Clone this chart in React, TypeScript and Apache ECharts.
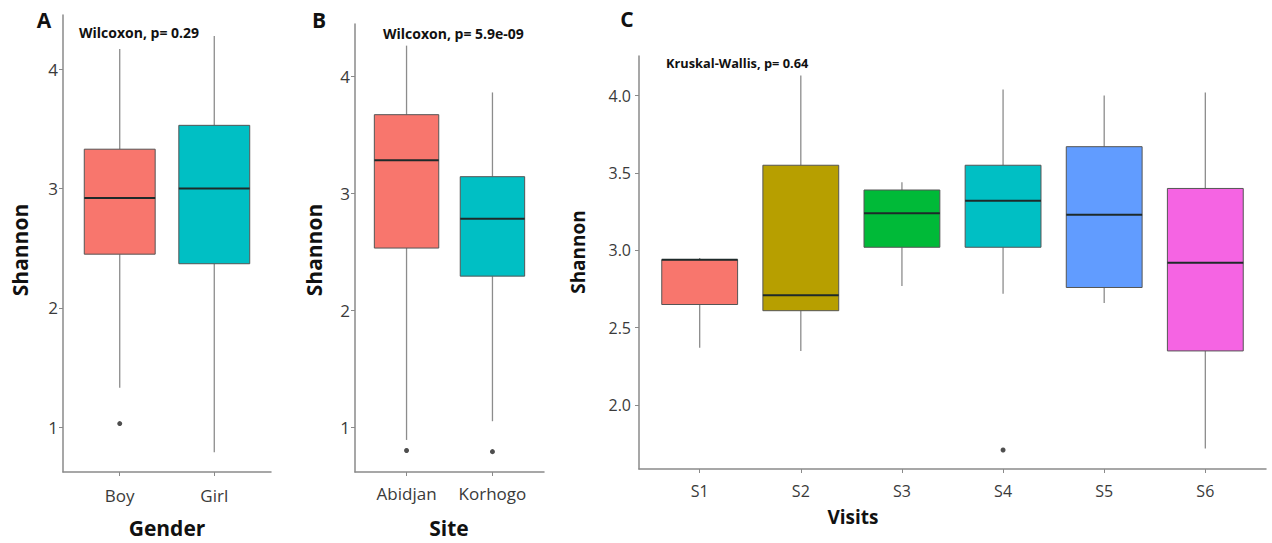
import React, { useEffect, useRef } from 'react';
import * as echarts from 'echarts';

// ---------- data ----------
const genderCats = ['Boy', 'Girl'];
// [lowerWhisker, Q1, median, Q3, upperWhisker]
const genderStats = [
  [1.33, 2.45, 2.92, 3.33, 4.17],
  [0.79, 2.37, 3.0, 3.53, 4.28],
];
const genderOutliers = [[0, 1.03]];

const siteCats = ['Abidjan', 'Korhogo'];
const siteStats = [
  [0.89, 2.53, 3.28, 3.67, 4.26],
  [1.05, 2.29, 2.78, 3.14, 3.86],
];
const siteOutliers = [[0, 0.8], [1, 0.79]];

const visitCats = ['S1', 'S2', 'S3', 'S4', 'S5', 'S6'];
const visitStats = [
  [2.37, 2.65, 2.94, 2.94, 2.95],
  [2.35, 2.61, 2.71, 3.55, 4.13],
  [2.77, 3.02, 3.24, 3.39, 3.44],
  [2.72, 3.02, 3.32, 3.55, 4.04],
  [2.66, 2.76, 3.23, 3.67, 4.0],
  [1.72, 2.35, 2.92, 3.4, 4.02],
];
const visitOutliers = [[3, 1.71]];

const abTicks = [1, 2, 3, 4];
const cTicks = [2.0, 2.5, 3.0, 3.5, 4.0];

const panelLetters = ['A', 'B', 'C'];
const testLabels = ['Wilcoxon, p= 0.29', 'Wilcoxon, p= 5.9e-09', 'Kruskal-Wallis, p= 0.64'];
const xTitles = ['Gender', 'Site', 'Visits'];
const yTitle = 'Shannon';

// ---------- styles ----------
const FONT = '"Open Sans", Lato, sans-serif';
const pal2 = ['#F8766D', '#00BFC4'];
const pal6 = ['#F8766D', '#B79F00', '#00BA38', '#00BFC4', '#619CFF', '#F564E3'];

type Panel = {
  cats: string[];
  stats: number[][];
  outliers: number[][];
  ticks: number[];
  yMin: number;
  yMax: number;
  grid: { left: number; top: number; width: number; height: number };
  palette: string[];
  tickFont: number;
  xLabelMargin: number;
  yLabelMargin: number;
  decimals: number;
};

const panels: Panel[] = [
  {
    cats: genderCats, stats: genderStats, outliers: genderOutliers, ticks: abTicks,
    yMin: 0.624, yMax: 4.455,
    grid: { left: 63, top: 15, width: 208, height: 457 },
    palette: pal2, tickFont: 17, xLabelMargin: 15, yLabelMargin: 5, decimals: 0,
  },
  {
    cats: siteCats, stats: siteStats, outliers: siteOutliers, ticks: abTicks,
    yMin: 0.616, yMax: 4.445,
    grid: { left: 355, top: 24, width: 189, height: 448 },
    palette: pal2, tickFont: 17, xLabelMargin: 13, yLabelMargin: 5, decimals: 0,
  },
  {
    cats: visitCats, stats: visitStats, outliers: visitOutliers, ticks: cTicks,
    yMin: 1.587, yMax: 4.256,
    grid: { left: 639, top: 56, width: 627, height: 413 },
    palette: pal6, tickFont: 16, xLabelMargin: 14, yLabelMargin: 8, decimals: 1,
  },
];

function buildOption() {
  const grids: any[] = [];
  const xAxes: any[] = [];
  const yAxes: any[] = [];
  const series: any[] = [];
  const axisColor = '#8a8a8a';

  panels.forEach((p, i) => {
    grids.push({ ...p.grid, containLabel: false });
    const catVals = p.cats.map((_, k) => k + 1);
    xAxes.push({
      type: 'value',
      gridIndex: i,
      min: 0.4,
      max: p.cats.length + 0.6,
      axisLine: { show: true, onZero: false, lineStyle: { color: axisColor, width: 1.5 } },
      axisTick: { show: true, customValues: catVals, length: 4, lineStyle: { color: axisColor, width: 1 } },
      axisLabel: {
        customValues: catVals,
        formatter: (v: number) => p.cats[Math.round(v) - 1] ?? '',
        fontSize: p.tickFont,
        color: '#3a3a3a',
        fontFamily: FONT,
        margin: p.xLabelMargin,
      },
      splitLine: { show: false },
    });
    yAxes.push({
      type: 'value',
      gridIndex: i,
      min: p.yMin,
      max: p.yMax,
      axisLine: { show: true, onZero: false, lineStyle: { color: axisColor, width: 1.5 } },
      axisTick: { show: true, customValues: p.ticks, length: 4, lineStyle: { color: axisColor, width: 1 } },
      axisLabel: {
        customValues: p.ticks,
        formatter: (v: number) => v.toFixed(p.decimals),
        fontSize: p.tickFont,
        color: '#3a3a3a',
        fontFamily: FONT,
        margin: p.yLabelMargin,
      },
      splitLine: { show: false },
    });

    const palette = p.palette;
    series.push({
      type: 'custom',
      xAxisIndex: i,
      yAxisIndex: i,
      encode: { x: 0, y: [1, 2, 3, 4, 5] },
      data: p.stats.map((s, k) => [k + 1, ...s]),
      renderItem: (params: any, api: any) => {
        const x = api.value(0);
        const lo = api.value(1);
        const q1 = api.value(2);
        const med = api.value(3);
        const q3 = api.value(4);
        const hi = api.value(5);
        const pHi = api.coord([x, hi]);
        const pQ3 = api.coord([x, q3]);
        const pMed = api.coord([x, med]);
        const pQ1 = api.coord([x, q1]);
        const pLo = api.coord([x, lo]);
        const halfW = api.size([0.75, 0])[0] / 2;
        const fill = palette[params.dataIndex % palette.length];
        return {
          type: 'group',
          children: [
            { type: 'line', shape: { x1: pHi[0], y1: pHi[1], x2: pQ3[0], y2: pQ3[1] }, style: { stroke: '#8c8c8c', lineWidth: 1.3 } },
            { type: 'line', shape: { x1: pQ1[0], y1: pQ1[1], x2: pLo[0], y2: pLo[1] }, style: { stroke: '#8c8c8c', lineWidth: 1.3 } },
            {
              type: 'rect',
              shape: { x: pQ3[0] - halfW, y: pQ3[1], width: halfW * 2, height: pQ1[1] - pQ3[1] },
              style: { fill, stroke: '#555555', lineWidth: 1 },
            },
            {
              type: 'line',
              shape: { x1: pMed[0] - halfW, y1: pMed[1], x2: pMed[0] + halfW, y2: pMed[1] },
              style: { stroke: '#1e2a2a', lineWidth: 2 },
            },
          ],
        };
      },
      z: 2,
    });
    series.push({
      type: 'scatter',
      xAxisIndex: i,
      yAxisIndex: i,
      data: p.outliers.map((o) => [o[0] + 1, o[1]]),
      symbol: 'circle',
      symbolSize: 5,
      itemStyle: { color: '#222' },
      z: 3,
    });
  });

  const txt = (x: number, y: number, text: string, size: number, opts: any = {}) => ({
    type: 'text',
    x,
    y,
    rotation: opts.rotation ?? 0,
    style: {
      text,
      fontSize: size,
      fontWeight: 'bold',
      fontFamily: FONT,
      fill: opts.fill ?? '#111',
      align: opts.align ?? 'center',
      verticalAlign: 'middle',
    },
  });

  const graphic: any[] = [
    txt(44, 20, panelLetters[0], 21),
    txt(319, 20, panelLetters[1], 21),
    txt(627, 19, panelLetters[2], 21),
    txt(79, 32, testLabels[0], 14, { align: 'left' }),
    txt(383, 33, testLabels[1], 14, { align: 'left' }),
    txt(666, 63, testLabels[2], 12.8, { align: 'left' }),
    txt(167, 528, xTitles[0], 21),
    txt(449, 528, xTitles[1], 21),
    txt(853, 517, xTitles[2], 19),
    txt(20, 250, yTitle, 21, { rotation: Math.PI / 2 }),
    txt(314, 250, yTitle, 21, { rotation: Math.PI / 2 }),
    txt(578, 252, yTitle, 19, { rotation: Math.PI / 2 }),
  ];

  return {
    animation: false,
    backgroundColor: '#ffffff',
    grid: grids,
    xAxis: xAxes,
    yAxis: yAxes,
    series,
    graphic,
  };
}

export default function App() {
  const ref = useRef<HTMLDivElement>(null);
  useEffect(() => {
    document.body.style.margin = '0';
    const chart = echarts.init(ref.current!, null, { renderer: 'svg' });
    chart.setOption(buildOption() as any);
    return () => chart.dispose();
  }, []);
  return <div ref={ref} style={{ width: 1272, height: 543 }} />;
}
